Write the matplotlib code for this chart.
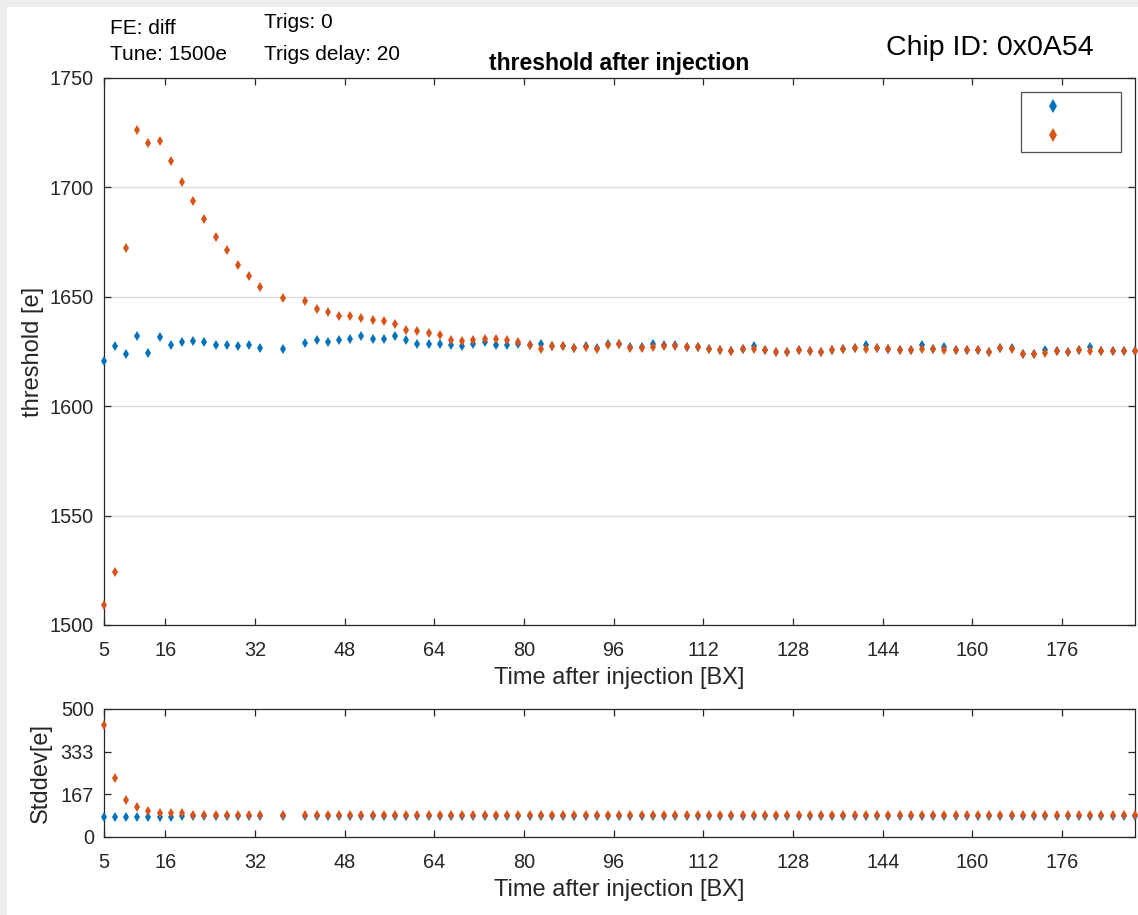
import matplotlib
matplotlib.use("Agg")
import matplotlib.pyplot as plt
from matplotlib.patches import Rectangle
from matplotlib.lines import Line2D

plt.rcParams['font.family'] = ['Liberation Sans', 'DejaVu Sans']

# ---------------- data ----------------
bx = [5, 7, 9, 11, 13, 15, 17, 19, 21, 23, 25, 27, 29, 31, 33, 37,
      41, 43, 45, 47, 49, 51, 53, 55, 57, 59, 61, 63, 65, 67, 69, 71,
      73, 75, 77, 79, 81, 83, 85, 87, 89, 91, 93, 95, 97, 99, 101, 103,
      105, 107, 109, 111, 113, 115, 117, 119, 121, 123, 125, 127, 129, 131, 133, 135,
      137, 139, 141, 143, 145, 147, 149, 151, 153, 155, 157, 159, 161, 163, 165, 167,
      169, 171, 173, 175, 177, 179, 181, 183, 185, 187, 189]

thr_blue = [1620.8, 1627.5, 1624.0, 1631.9, 1624.5, 1631.5, 1628.0, 1629.5, 1630.0, 1629.5,
            1628.0, 1628.0, 1627.5, 1628.0, 1626.6, 1626.0,
            1628.9, 1630.4, 1629.3, 1630.1, 1630.8, 1631.9, 1630.8, 1630.8, 1631.9, 1630.4,
            1628.6, 1628.6, 1628.6, 1627.8, 1627.3, 1628.6,
            1629.3, 1627.8, 1627.8, 1628.6, 1627.8, 1628.2, 1627.3, 1627.3, 1626.6, 1627.3,
            1626.6, 1628.2, 1628.6, 1627.0, 1627.0, 1628.2,
            1628.1, 1627.8, 1627.1, 1627.1, 1626.0, 1625.5, 1625.2, 1626.3, 1627.3, 1625.8,
            1624.6, 1624.8, 1625.5, 1625.2, 1624.6, 1625.8,
            1626.3, 1626.7, 1627.8, 1626.7, 1626.1, 1625.5, 1625.5, 1628.1, 1626.0, 1627.0,
            1625.5, 1625.5, 1625.5, 1624.6, 1626.7, 1626.7,
            1624.0, 1624.0, 1625.8, 1625.0, 1624.6, 1625.5, 1627.0, 1625.2, 1625.0, 1625.0,
            1625.2]

thr_orange = [1509.3, 1524.3, 1672.2, 1726.3, 1720.1, 1721.0, 1712.2, 1702.3, 1693.8, 1685.4,
              1677.2, 1671.3, 1664.6, 1659.7, 1654.7, 1649.4,
              1648.0, 1644.5, 1643.0, 1641.0, 1641.0, 1640.1, 1639.2, 1638.9, 1637.7, 1635.0,
              1634.3, 1633.3, 1632.4, 1630.1, 1629.6, 1630.1,
              1630.5, 1630.5, 1630.1, 1629.3, 1627.8, 1626.3, 1627.3, 1627.3, 1626.6, 1627.0,
              1626.3, 1627.8, 1628.2, 1626.6, 1626.6, 1627.0,
              1627.3, 1627.6, 1627.1, 1627.1, 1626.0, 1625.5, 1625.2, 1626.3, 1626.1, 1625.8,
              1624.6, 1624.6, 1625.5, 1625.2, 1624.6, 1625.8,
              1626.3, 1626.7, 1626.3, 1626.7, 1626.1, 1625.5, 1625.5, 1626.0, 1626.0, 1625.8,
              1625.5, 1625.5, 1625.5, 1624.6, 1626.7, 1626.1,
              1624.0, 1624.0, 1624.3, 1625.0, 1624.6, 1625.5, 1625.2, 1625.2, 1625.0, 1625.0,
              1625.2]

std_blue = [77, 77, 77, 77, 77, 77, 80, 81, 82, 82,
            83, 83, 83, 83, 83, 83,
            83, 83, 83, 83, 83, 83, 83, 83, 83, 83,
            83, 83, 83, 83, 83, 83,
            83, 83, 83, 83, 83, 83, 83, 83, 83, 83,
            83, 83, 83, 83, 83, 83,
            83, 83, 83, 83, 83, 83, 83, 83, 83, 83,
            83, 83, 83, 83, 83, 83,
            83, 83, 83, 83, 83, 83, 83, 83, 83, 83,
            83, 83, 83, 83, 83, 83,
            83, 83, 83, 83, 83, 83, 83, 83, 83, 83,
            83]

std_orange = [438, 229, 145, 119, 103, 93, 93, 92, 87, 86,
              86, 85, 84, 84, 84, 84,
              84, 84, 84, 84, 84, 84, 84, 84, 84, 84,
              84, 84, 84, 84, 84, 84,
              84, 84, 84, 84, 84, 84, 84, 84, 84, 84,
              84, 84, 84, 84, 84, 84,
              84, 84, 84, 84, 84, 84, 84, 84, 84, 84,
              84, 84, 84, 84, 84, 84,
              84, 84, 84, 84, 84, 84, 84, 84, 84, 84,
              84, 84, 84, 84, 84, 84,
              84, 84, 84, 84, 84, 84, 84, 84, 84, 84,
              84]

xticks = [5, 16, 32, 48, 64, 80, 96, 112, 128, 144, 160, 176]
yticks_top = [1500, 1550, 1600, 1650, 1700, 1750]
yticks_bot = [0, 167, 333, 500]

BLUE = '#0072BD'
ORANGE = '#D95319'
DARK = '#262626'

W, H = 1138, 915
fig = plt.figure(figsize=(W / 100, H / 100), dpi=100, facecolor='#ececec')
fig.patches.append(Rectangle((7 / W, 0), 1, 1 - 7 / H, transform=fig.transFigure,
                             facecolor='white', edgecolor='none', zorder=-10))


def fx(px):
    return px / W


def fy(py):
    return 1 - py / H


ax1 = fig.add_axes([fx(103.5), fy(625), fx(1135) - fx(103.5), fy(78) - fy(625)])
ax2 = fig.add_axes([fx(103.5), fy(837), fx(1135) - fx(103.5), fy(709) - fy(837)])

TICKFS = 14.3
LABFS = 17

for ax in (ax1, ax2):
    ax.set_facecolor('white')
    for s in ax.spines.values():
        s.set_color(DARK)
        s.set_linewidth(0.9)
    ax.tick_params(direction='in', top=True, right=True, length=5.2, width=0.9,
                   colors=DARK, labelsize=TICKFS)
    ax.tick_params(axis='x', pad=11.5)
    ax.tick_params(axis='y', pad=7)
    ax.set_xlim(5, 189)
    ax.set_xticks(xticks)
    ax.set_xlabel('Time after injection [BX]', fontsize=LABFS, color=DARK, labelpad=5)

ms = 5.5
ax1.plot(bx, thr_blue, linestyle='none', marker='d', ms=ms, mew=0, color=BLUE,
         clip_on=False, zorder=3)
ax1.plot(bx, thr_orange, linestyle='none', marker='d', ms=ms, mew=0, color=ORANGE,
         clip_on=False, zorder=4)
ax1.set_ylim(1500, 1750)
ax1.set_yticks(yticks_top)
ax1.yaxis.grid(True, color='#dcdcdc', linewidth=1.0)
ax1.set_axisbelow(True)
ax1.set_ylabel('threshold [e]', fontsize=LABFS, color=DARK, labelpad=4)
ax1.set_title('threshold after injection', fontsize=16.5, fontweight='bold', color='black', pad=6)

ax2.plot(bx, std_blue, linestyle='none', marker='d', ms=ms, mew=0, color=BLUE,
         clip_on=False, zorder=3)
ax2.plot(bx, std_orange, linestyle='none', marker='d', ms=ms, mew=0, color=ORANGE,
         clip_on=False, zorder=4)
ax2.set_ylim(0, 500)
ax2.set_yticks(yticks_bot)
ax2.set_yticklabels([str(v) for v in yticks_bot])
ax2.set_ylabel('Stddev[e]', fontsize=LABFS, color=DARK, labelpad=6)

handles = [Line2D([], [], linestyle='none', marker='d', ms=7.5, mew=0, color=BLUE),
           Line2D([], [], linestyle='none', marker='d', ms=7.5, mew=0, color=ORANGE)]
leg = ax1.legend(handles, ['     ', '     '], loc='upper right',
                 bbox_to_anchor=(fx(1121), fy(92)), bbox_transform=fig.transFigure,
                 borderaxespad=0, fancybox=False, frameon=True, fontsize=13,
                 handlelength=2.75, handletextpad=0.6, labelspacing=0.65, borderpad=0.4)
leg.get_frame().set_edgecolor(DARK)
leg.get_frame().set_linewidth(0.9)

TXTFS = 15
fig.text(fx(110), fy(29), 'FE: diff', fontsize=TXTFS, va='center', ha='left', color='black')
fig.text(fx(110), fy(55), 'Tune: 1500e', fontsize=TXTFS, va='center', ha='left', color='black')
fig.text(fx(264), fy(23), 'Trigs: 0', fontsize=TXTFS, va='center', ha='left', color='black')
fig.text(fx(264), fy(54), 'Trigs delay: 20', fontsize=TXTFS, va='center', ha='left', color='black')
fig.text(fx(886), fy(48), 'Chip ID: 0x0A54', fontsize=20.5, va='center', ha='left', color='black')

fig.savefig('out.png', dpi=100, facecolor=fig.get_facecolor())
